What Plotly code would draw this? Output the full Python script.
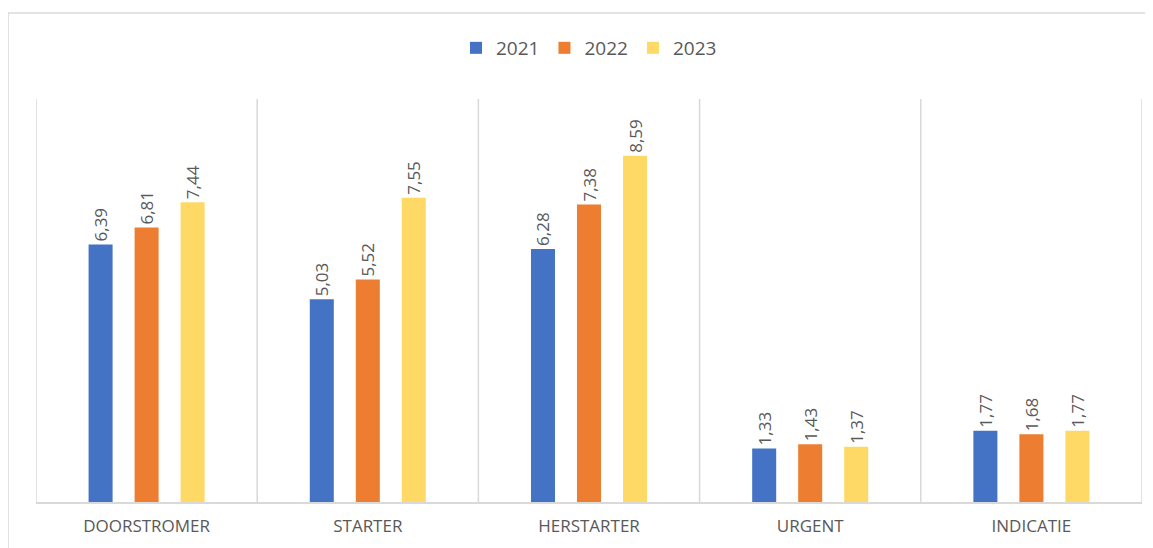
import plotly.graph_objects as go

categories = ["DOORSTROMER", "STARTER", "HERSTARTER", "URGENT", "INDICATIE"]
years = ["2021", "2022", "2023"]
v2021 = [6.39, 5.03, 6.28, 1.33, 1.77]
v2022 = [6.81, 5.52, 7.38, 1.43, 1.68]
v2023 = [7.44, 7.55, 8.59, 1.37, 1.77]
colors = ["#4472C4", "#ED7D31", "#FFD966"]

fig = go.Figure()
for name, vals, col in zip(years, [v2021, v2022, v2023], colors):
    fig.add_trace(go.Bar(
        x=categories, y=vals, name=name, marker=dict(color=col, line=dict(width=0)),
        texttemplate="%{y:.2f}", textposition="outside", textangle=-90,
        textfont=dict(size=17, color="#595959", family="Open Sans"),
        constraintext="none", cliponaxis=False,
    ))

shapes = []
for i in range(len(categories) + 1):
    shapes.append(dict(type="line", xref="x", yref="y", x0=i - 0.5, x1=i - 0.5, y0=0, y1=10,
                       line=dict(color="#d9d9d9", width=1.5), layer="below"))
shapes.append(dict(type="rect", xref="paper", yref="paper", x0=-0.0253, x1=1.05, y0=-0.3, y1=1.2134,
                   line=dict(color="#d9d9d9", width=1.5), layer="below"))

fig.update_layout(
    width=1145, height=540,
    margin=dict(l=28, r=11, t=91, b=46),
    paper_bgcolor="white", plot_bgcolor="white",
    separators=",.",
    barmode="group", bargap=0.376, bargroupgap=0.478,
    showlegend=True,
    legend=dict(orientation="h", x=0.5, xanchor="center", y=1.1266, yanchor="middle",
                font=dict(size=19, color="#595959", family="Open Sans"), itemwidth=30,
                traceorder="normal"),
    xaxis=dict(showgrid=False, showline=True, linecolor="#d9d9d9", linewidth=1.5,
               tickfont=dict(size=17, color="#595959", family="Open Sans"), ticks="",
               ticklabelstandoff=8, range=[-0.5, 4.5]),
    yaxis=dict(range=[0, 10], showgrid=False, showticklabels=False, zeroline=False, showline=False),
    shapes=shapes,
    font=dict(family="Open Sans"),
)

fig.write_html("out.html")
